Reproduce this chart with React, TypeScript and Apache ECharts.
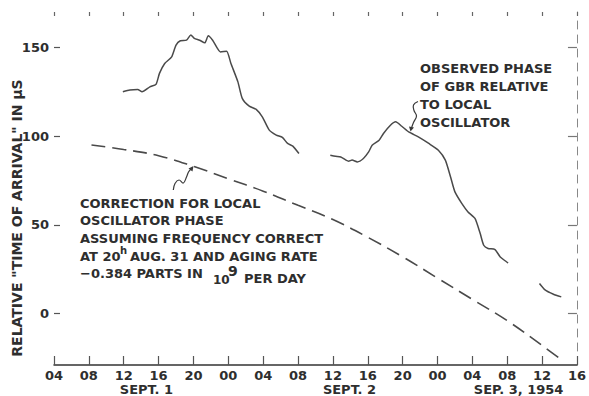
import React, { useEffect, useRef } from "react";
import * as echarts from "echarts";

// hours counted from Sept 1, 00:00
const hourMin = 4;
const hourMax = 64;
const yTickValues = [0, 50, 100, 150];

const correctionHours = [8.3, 12, 16, 20, 24, 28, 32, 36, 40, 44, 48, 52, 56, 60, 62.2];
const correctionValues = [95, 92.5, 89, 83, 76, 69, 61, 53, 43, 32, 20, 8, -4, -18, -26];

const observedHours1 = [11.9, 12.7, 13.6, 14.1, 15.0, 15.7, 16.1, 16.7, 17.5, 18.0, 18.5, 19.2, 19.7, 20.1, 20.7, 21.3, 21.7, 22.2, 23.1, 23.8, 24.3, 25.1, 25.6, 26.4, 27.2, 27.9, 28.7, 29.5, 30.2, 30.8, 31.4, 32.1];
const observedValues1 = [125, 126, 126.3, 125, 127.8, 129.2, 135.4, 141, 144.7, 151.3, 153.8, 154.1, 157, 155.1, 154.1, 152.6, 156.6, 154.1, 147.5, 147.9, 141, 130.6, 121.3, 116.9, 115.1, 110.9, 103.4, 100.6, 99.3, 95.9, 94.4, 90.2];
const observedHours2 = [35.7, 36.3, 36.9, 37.5, 37.8, 38.2, 38.8, 39.5, 40.1, 40.5, 41.3, 41.8, 42.6, 43.2, 43.9, 44.7, 45.8, 47.0, 48.1, 48.9, 49.5, 50.0, 50.8, 51.5, 52.3, 52.9, 53.3, 53.8, 54.6, 55.2, 56.1];
const observedValues2 = [89.3, 88.7, 88.3, 86.5, 85.9, 86.5, 85.5, 87.4, 91.1, 94.9, 97.7, 101.5, 106.2, 108.1, 105.6, 102.4, 99.6, 95.9, 92.1, 86.5, 77, 68.6, 62, 57.3, 53.6, 45.1, 38.5, 36.7, 36.1, 31.9, 28.5];
const observedHours3 = [59.7, 60.3, 61.3, 62.2];
const observedValues3 = [16.9, 13.5, 10.9, 9.4];

const dateLabelHours = [14.6, 37.9, 57.3];
const dateLabels = ["SEPT. 1", "SEPT. 2", "SEP. 3, 1954"];

const FONT = "'DejaVu Sans', sans-serif";
const INK = "#2e2e2e";
const LINE = "#4a4a4a";

function pairs(xs: number[], ys: number[]) {
  return xs.map((x, i) => [x, ys[i]]);
}

function txt(text: string, x: number, y: number, size = 13, align = "left", extra: any = {}) {
  return {
    type: "text",
    x,
    y,
    silent: true,
    ...extra,
    style: {
      text,
      fontFamily: FONT,
      fontSize: size,
      fontWeight: "bold",
      fill: INK,
      textAlign: align,
      align,
      textVerticalAlign: "middle",
      verticalAlign: "middle",
    },
  };
}

export default function App() {
  const ref = useRef<HTMLDivElement>(null);
  useEffect(() => {
    if (!ref.current) return;
    const chart = echarts.init(ref.current, undefined, { renderer: "svg" });
    const observedData = [
      ...pairs(observedHours1, observedValues1),
      [null, null],
      ...pairs(observedHours2, observedValues2),
      [null, null],
      ...pairs(observedHours3, observedValues3),
    ];
    const hourLabel = (v: number) => String(((v % 24) + 24) % 24).padStart(2, "0");
    chart.setOption({
      animation: false,
      backgroundColor: "#ffffff",
      grid: { left: 54, top: 12, width: 525, height: 353 },
      xAxis: [
        {
          type: "value",
          min: hourMin,
          max: hourMax,
          interval: 4,
          position: "bottom",
          axisLine: { show: true, onZero: false, lineStyle: { color: "#333", width: 1.5 } },
          axisTick: { show: true, inside: true, length: 9, lineStyle: { color: "#555", width: 1.2 } },
          axisLabel: {
            formatter: hourLabel,
            fontFamily: FONT,
            fontSize: 13,
            fontWeight: "bold",
            color: INK,
            margin: 4,
          },
          splitLine: { show: false },
        },
        {
          type: "value",
          min: hourMin,
          max: hourMax,
          position: "bottom",
          axisLine: { show: false, onZero: false },
          axisTick: { show: false },
          axisLabel: {
            customValues: dateLabelHours,
            formatter: (v: number) => {
              const i = dateLabelHours.indexOf(v);
              return i >= 0 ? dateLabels[i] : "";
            },
            fontFamily: FONT,
            fontSize: 13,
            fontWeight: "bold",
            color: INK,
            margin: 18,
          },
          splitLine: { show: false },
        },
        {
          type: "value",
          min: hourMin,
          max: hourMax,
          interval: 4,
          position: "top",
          axisLine: { show: false, onZero: false },
          axisTick: { show: true, inside: true, length: 4, lineStyle: { color: "#666", width: 1.2 } },
          axisLabel: { show: false },
          splitLine: { show: false },
        },
      ],
      yAxis: [
        {
          type: "value",
          min: -29,
          max: 170,
          position: "left",
          axisLine: { show: false, onZero: false },
          axisTick: { show: true, inside: true, length: 6, customValues: yTickValues, lineStyle: { color: "#555", width: 1.2 } },
          axisLabel: {
            customValues: yTickValues,
            fontFamily: FONT,
            fontSize: 13,
            fontWeight: "bold",
            color: INK,
            margin: 5,
          },
          splitLine: { show: false },
        },
        {
          type: "value",
          min: -29,
          max: 170,
          position: "right",
          axisLine: { show: true, onZero: false, lineStyle: { color: "#888", width: 1, type: [8, 6] } },
          axisTick: { show: true, inside: true, length: 9, customValues: yTickValues, lineStyle: { color: "#777", width: 1.2 } },
          axisLabel: { show: false },
          splitLine: { show: false },
        },
      ],
      series: [
        {
          type: "line",
          name: "Correction",
          xAxisIndex: 0,
          yAxisIndex: 0,
          data: pairs(correctionHours, correctionValues),
          smooth: 0.4,
          showSymbol: false,
          lineStyle: { color: LINE, width: 1.6, type: [14, 7] },
        },
        {
          type: "line",
          name: "Observed",
          xAxisIndex: 0,
          yAxisIndex: 0,
          data: observedData,
          connectNulls: false,
          smooth: 0.2,
          showSymbol: false,
          lineStyle: { color: LINE, width: 1.5 },
        },
      ],
      graphic: [
        txt('RELATIVE "TIME OF ARRIVAL" IN µS', 17, 218, 14, "center", { rotation: Math.PI / 2 }),
        txt("OBSERVED PHASE", 420, 68.5),
        txt("OF GBR RELATIVE", 420, 86.5),
        txt("TO LOCAL", 420, 104.5),
        txt("OSCILLATOR", 420, 122),
        txt("CORRECTION FOR LOCAL", 80, 203),
        txt("OSCILLATOR PHASE", 80, 220.5),
        txt("ASSUMING FREQUENCY CORRECT", 80, 238.5),
        txt("AT 20", 80, 256.5),
        txt("h", 120, 250, 10),
        txt("AUG. 31 AND AGING RATE", 130, 256.5),
        txt("\u22120.384 PARTS IN", 80, 273.5),
        txt("10", 213, 280, 12),
        txt("9", 228, 271, 14),
        txt("PER DAY", 244, 278.5),
        {
          type: "polyline",
          silent: true,
          shape: {
            points: [[173.3, 190], [175, 183.5], [179, 180], [183.3, 183], [186.5, 177], [188.5, 172], [191, 169]],
            smooth: 0.4,
          },
          style: { stroke: "#3a3a3a", lineWidth: 1.2, fill: null },
        },
        {
          type: "polygon",
          silent: true,
          shape: { points: [[193.5, 166], [188.5, 168.5], [192.5, 171.5]] },
          style: { fill: "#3a3a3a" },
        },
        {
          type: "polyline",
          silent: true,
          shape: {
            points: [[418, 101.5], [413.5, 105], [414, 110.5], [416.5, 116], [413.5, 122.5], [411.5, 128]],
            smooth: 0.4,
          },
          style: { stroke: "#3a3a3a", lineWidth: 1.2, fill: null },
        },
        {
          type: "polygon",
          silent: true,
          shape: { points: [[410.5, 131.5], [409, 126.5], [414, 127.5]] },
          style: { fill: "#3a3a3a" },
        },
      ],
    });
    return () => chart.dispose();
  }, []);
  return (
    <div
      ref={ref}
      style={{ position: "fixed", left: 0, top: 0, width: 589, height: 396, background: "#fff" }}
    />
  );
}
